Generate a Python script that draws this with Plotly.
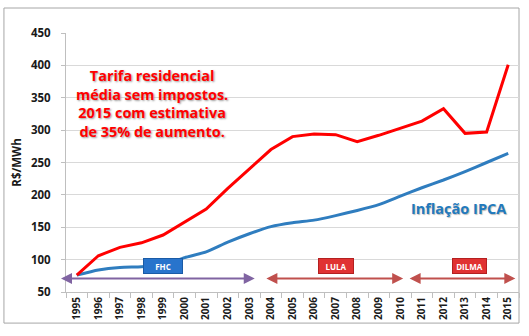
import plotly.graph_objects as go

# Annual values, R$/MWh
anos = list(range(1995, 2016))
tarifa = [76, 106, 119, 126, 138, 158, 178, 210, 240, 270, 290, 294, 293, 282, 292, 303, 314, 333, 295, 297, 401]
ipca = [76, 84, 88, 89, 92, 103, 112, 127, 140, 151, 157, 161, 168, 176, 185, 198, 211, 223, 236, 250, 264]

y_ticks = [50, 100, 150, 200, 250, 300, 350, 400, 450]

# Presidential terms: (label, start, end, label position, box width, arrow colour, box fill, box border)
mandatos = [
    ("FHC", 1994.2, 2003.25, 1999.0, 36, "#8064A2", "#2874CC", "#1A5BA6"),
    ("LULA", 2003.72, 2010.13, 2007.0, 32, "#C0504D", "#E03232", "#B42020"),
    ("DILMA", 2010.36, 2015.33, 2013.22, 31, "#C0504D", "#E03232", "#B42020"),
]
y_mandato = 71
y_caixa = 90

FONTE = "Open Sans"

fig = go.Figure()

fig.add_trace(go.Scatter(
    x=anos, y=ipca, mode="lines",
    line=dict(color="#2F7DBF", width=3, shape="spline", smoothing=0.6),
    hoverinfo="skip", showlegend=False,
))
fig.add_trace(go.Scatter(
    x=anos, y=tarifa, mode="lines",
    line=dict(color="#FF0000", width=3),
    hoverinfo="skip", showlegend=False,
))

annotations = [
    dict(x=1998.5, y=341, xref="x", yref="y",
         text="<b>Tarifa residencial<br>média sem impostos.<br>2015 com estimativa<br>de 35% de aumento.</b>",
         showarrow=False, align="center",
         font=dict(family=FONTE, size=14.4, color="#FF0000",
                   shadow="1px 1px 2px #999999")),
    dict(x=2012.68, y=179.5, xref="x", yref="y", text="<b>Inflação IPCA</b>",
         showarrow=False,
         font=dict(family=FONTE, size=14.5, color="#2179BD",
                   shadow="1px 1px 1px #BBBBBB")),
]

for nome, x0, x1, xc, larg, cor, cor_caixa, borda in mandatos:
    # double-headed arrow spanning the term
    annotations.append(dict(
        x=x1, y=y_mandato, ax=x0, ay=y_mandato,
        xref="x", yref="y", axref="x", ayref="y",
        text="", showarrow=True, arrowhead=2, arrowside="end+start",
        arrowsize=1.1, arrowwidth=2, arrowcolor=cor,
    ))
    annotations.append(dict(
        x=xc, y=y_caixa, xref="x", yref="y", text="<b>" + nome + "</b>",
        showarrow=False, width=larg, height=12,
        bgcolor=cor_caixa, bordercolor=borda, borderwidth=1, borderpad=1,
        font=dict(family=FONTE, size=8, color="#FFFFFF"),
    ))

fig.update_layout(
    width=529, height=336,
    margin=dict(l=66, r=10, t=33, b=44),
    paper_bgcolor="white", plot_bgcolor="white",
    annotations=annotations,
    shapes=[dict(type="rect", xref="paper", yref="paper",
                 x0=-0.137, x1=1.0, y0=-0.12, y1=1.0965,
                 line=dict(color="#A6A6A6", width=1), layer="below")],
    xaxis=dict(
        range=[1994.5, 2015.5], tickmode="array", tickvals=anos,
        ticktext=["<b>%d</b>" % a for a in anos], tickangle=-90, ticks="",
        tickfont=dict(family=FONTE, size=10, color="#1A1A1A"),
        showgrid=False, zeroline=False,
        showline=True, linecolor="#BFBFBF", linewidth=1,
        minor=dict(tickvals=[a - 0.5 for a in anos] + [2015.5], ticks="outside",
                   ticklen=5, tickcolor="#BFBFBF", showgrid=False),
    ),
    yaxis=dict(
        range=[50, 450], tickmode="array", tickvals=y_ticks,
        ticktext=["<b>%d</b>" % v for v in y_ticks],
        ticks="outside", ticklen=4, tickcolor="#BFBFBF",
        ticklabelstandoff=8,
        tickfont=dict(family=FONTE, size=11.5, color="#1A1A1A"),
        showgrid=True, gridcolor="#D9D9D9", gridwidth=1, zeroline=False,
        showline=True, linecolor="#BFBFBF", linewidth=1,
        title=dict(text="<b>R$/MWh</b>", standoff=6,
                   font=dict(family=FONTE, size=11.5, color="#1A1A1A")),
    ),
)

fig.write_html("out.html")
